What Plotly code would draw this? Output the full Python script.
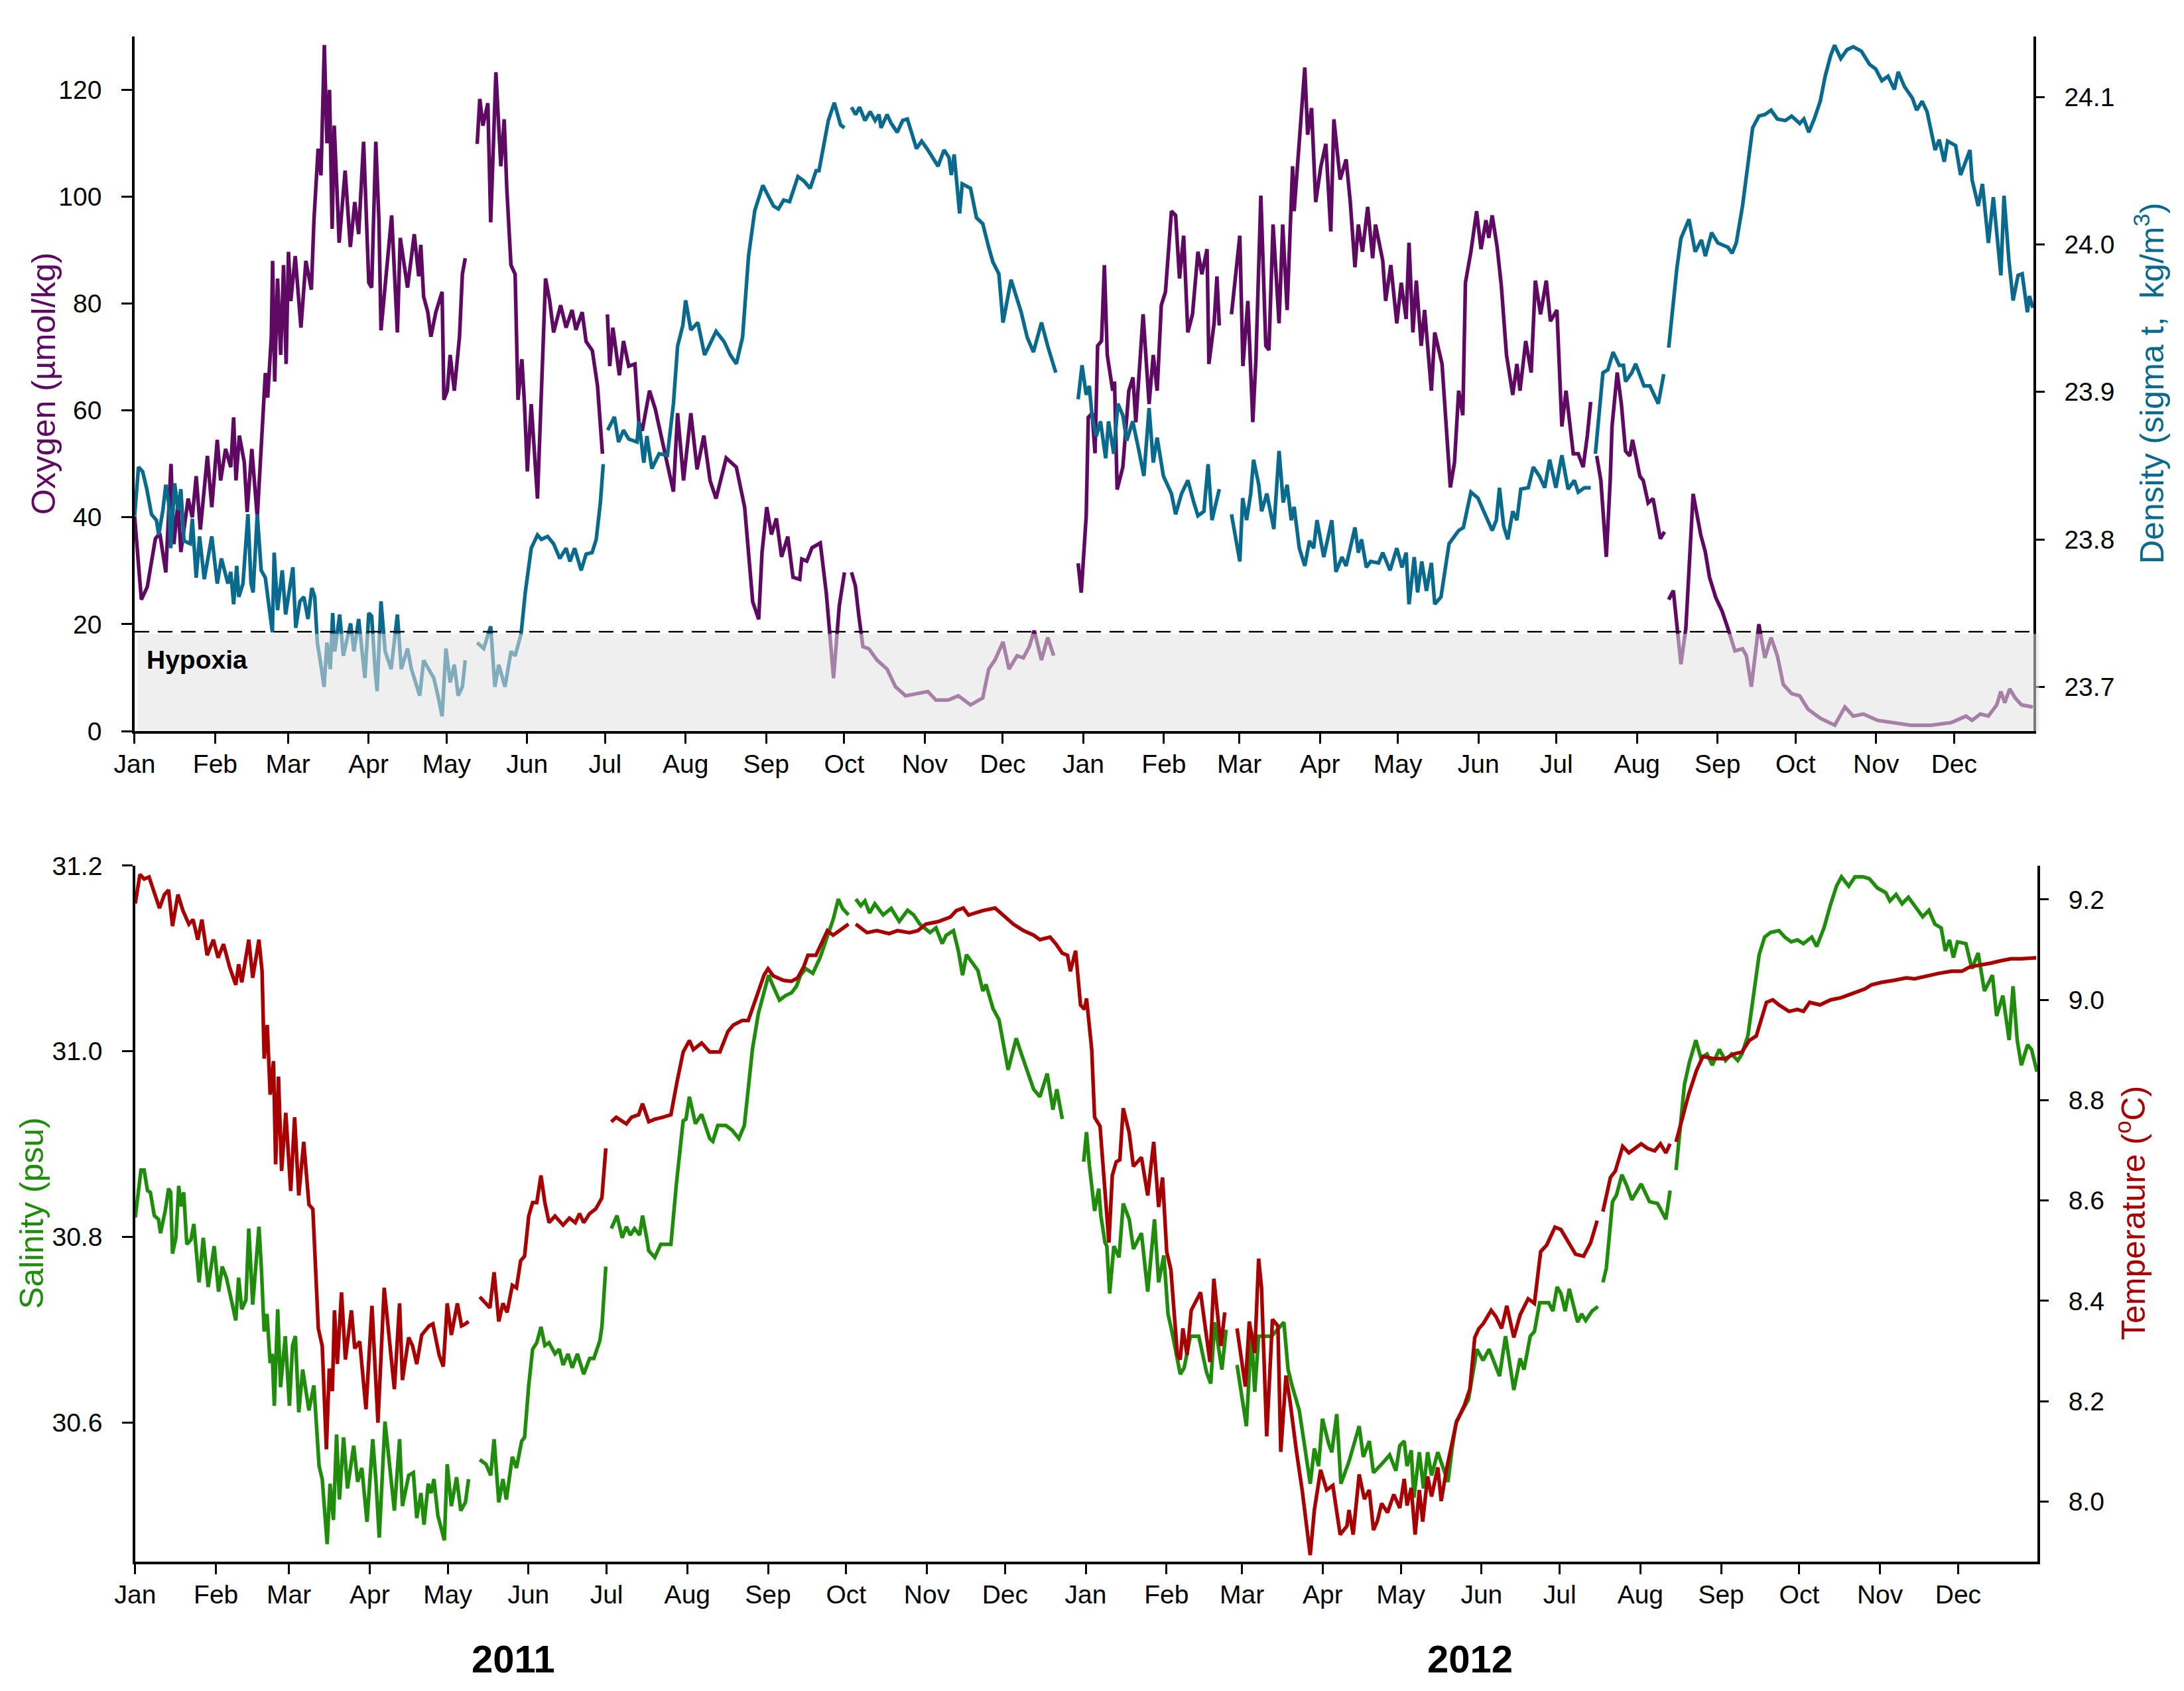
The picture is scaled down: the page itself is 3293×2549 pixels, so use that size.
import pandas as pd
import plotly.graph_objects as go

# (day since 2011-01-01, value); None marks a gap in the record
oxygen = [
    (0, 40.2), (2.6, 24.6), (4.9, 27), (8, 36), (9.7, 37), (12, 29.7), (14, 50), (15.1, 35),
    (16.7, 42.7), (17.8, 33.5), (20.6, 43.5), (22.2, 40), (23.7, 47.7), (25.3, 37.7), (28, 51.5),
    (29.7, 41.9), (31.8, 54.5), (33.1, 46.9), (35, 52.8), (37, 49.4), (38.1, 58.7), (39, 46.9),
    (40.3, 55.3), (42.2, 50.3), (43.3, 41), (45.1, 52.8), (47.2, 40), (49, 56), (50.3, 67),
    (51.2, 62.4), (52.6, 73.8), (53.1, 88), (53.9, 65.4), (55, 84.7), (56.2, 70.4), (57.3, 87.2),
    (58.3, 68.7), (59.2, 89.7), (60.1, 80.5), (61.8, 88.9), (64, 75.5), (65.9, 88), (68, 82.6),
    (69, 95.6), (70.6, 109), (71.7, 104), (73, 128.4), (74, 110), (75, 120), (76, 94), (76.8, 113.3),
    (78.7, 91.4), (81, 104.9), (83, 90.6), (84.7, 99), (86.2, 93), (88.1, 110.3), (90.1, 83.9),
    (91.2, 83), (92.8, 110.3), (94, 95.6), (94.8, 75), (97.2, 87.2), (98.9, 96.5), (101.1, 74.6),
    (102.2, 92.3), (105, 83), (107.6, 93), (109.3, 85.1), (110.1, 91), (111.2, 81.3), (112.8, 78.4),
    (114, 73.8), (115.9, 78.4), (118.3, 82.2), (119, 62), (120.3, 63.7), (121.4, 70.4), (123, 63.7),
    (125, 73.8), (126.1, 85.5), (127.2, 88.5), (129.5, None),
    (131.8, 109.9), (132.8, 118.3), (134, 113.3), (135.9, 117.5), (137, 95.2), (139, 123.3),
    (140.9, 105.7), (142.2, 114.5), (143.2, 101.5), (144.8, 87.2), (146.4, 85.5), (147.5, 62),
    (149, 69.6), (150, 61.2), (151.1, 48.6), (152.6, 61.2), (155, 43.5), (158.1, 84.7), (159.7, 80.5),
    (161.2, 74.6), (163.9, 79.7), (166, 75.5), (168.3, 78.8), (169.8, 75.1), (172.2, 78.4),
    (173.7, 72.9), (176.1, 71.2), (178.1, 64.6), (180, 51.9), (181, None),
    (181.9, 78), (182.8, 68.3), (184, 75.5), (186.5, 66.6), (188.1, 73), (190.1, 68.3), (192.5, 68.7),
    (194, 57.8), (195.3, 56.2), (198.1, 63.7), (200.3, 60.3), (203.4, 53.6), (207.3, 44.8),
    (208.9, 59.5), (211.2, 46.9), (214, 59.5), (216.4, 49), (219, 55.3), (221.4, 46.9), (223.7, 43.5),
    (227.6, 51.1), (231.5, 49.4), (234.7, 41.9), (237.8, 24.2), (240.1, 20.9), (241.4, 33.5),
    (243.2, 41.9), (245, 36.8), (246.9, 39.8), (248.9, 32.6), (251.3, 36.4), (253.3, 28.8),
    (255.9, 28.4), (256.7, 32.2), (258.6, 31.8), (260.6, 34.3), (263.8, 35.2), (266.1, 25.9),
    (268.9, 9.9), (271.1, 23.4), (273.1, 29.7), (274.5, None),
    (275.8, 29.7), (277.3, 27.2), (278.6, 21.7), (280.2, 15.8), (282.5, 15.4), (285.6, 13.3),
    (289.5, 11.6), (292.7, 8.3), (296.6, 6.6), (300.5, 7), (305.2, 7.4), (308.3, 5.8), (313, 5.8),
    (316.9, 6.6), (321.6, 4.9), (326.3, 6.2), (328.6, 11.6), (331, 13.3), (334.1, 16.7), (336.4, 11.6),
    (339.5, 14.1), (341.9, 13.7), (344.2, 15.8), (346.1, 18.8), (348.9, 13.3), (351.3, 17.5),
    (353.6, 14.1), (358, None),
    (363, 31.4), (364.2, 25.9), (366.1, 40.2), (366.9, 58.7), (368.4, 59.5), (369.5, 52), (370.5, 72.1),
    (372, 73), (373.1, 87.2), (374.2, 70.4), (376.3, 63.7), (377, 65.4), (378, 45.2), (380.2, 49.4),
    (382.5, 63.7), (384.1, 66.2), (385.2, 57.8), (388, 78), (390.3, 61.2), (391.9, 70.4), (393.4, 63.7),
    (395, 79.7), (396.6, 82.2), (398.9, 97.3), (400.5, 96.5), (402, 84.7), (403.6, 92.7), (405.2, 74.6),
    (407, 78), (409.1, 89.7), (410.6, 85.5), (412.6, 90.2), (413.3, 68.7), (415.3, 76.3), (416.4, 85.1),
    (417.3, 75.9), (419.5, None),
    (422, 78), (425.2, 92.7), (426.4, 68.3), (428.3, 80.5), (430.2, 57.8), (431.4, 69.6), (433.3, 100.2),
    (435.2, 72.1), (436.4, 71.3), (438, 94.8), (440.3, 76.3), (441.7, 94.8), (443.4, 78.8),
    (445.5, 105.7), (446.1, 97.3), (448.1, 111.6), (450.2, 124.2), (451.3, 111.6), (452.8, 116.6),
    (454.4, 99), (456.4, 105.7), (458.3, 109.9), (460.2, 93.5), (461.4, 114.5), (463.8, 103.2),
    (466.1, 107), (467.7, 99), (469.5, 86.8), (470.8, 94.8), (472.4, 89.7), (474.4, 98.1), (476.3, 88.5),
    (477.4, 94.8), (480.2, 88), (481.3, 80.5), (483.3, 87.2), (485.6, 76.3), (487.3, 83.9),
    (489.2, 77.1), (490.3, 91.4), (491.8, 74.6), (493.1, 84.3), (495, 72.1), (496.3, 78.8),
    (498.9, 63.7), (500.2, 74.6), (503, 68.7), (506.2, 45.6), (507.8, 50.3), (509.4, 63.7), (511, 59.1),
    (512, 83.9), (514.1, 89.7), (516.3, 97.3), (518, 90.2), (519.9, 95.6), (521, 92.3), (522.3, 96.5),
    (524.2, 90.6), (525.8, 83.4), (527.8, 70.4), (530.2, 62.9), (531.8, 68.7), (533, 63.7), (535.2, 73),
    (537.3, 67.1), (538.9, 84.3), (540.9, 78), (543.1, 84.3), (544.7, 76.7), (547.2, 78.8), (549.1, 57),
    (550.7, 63.7), (553.5, 51.9), (555.4, 51.9), (557.3, 49.4), (558.9, 55.3), (560.2, 61.6),
    (561.3, None),
    (562.5, 51.5), (564.1, 46.9), (566.2, 32.6), (567.7, 46.9), (568.4, 57), (570.4, 67.1), (572, 61.2),
    (573.6, 52.4), (575.2, 51.5), (576.3, 54.5), (579.1, 47.7), (580.4, 46.9), (582.3, 42.7),
    (584.2, 43.5), (587, 36), (588.6, 37.3), (589.4, None),
    (590.2, 24.6), (592, 26.3), (594.9, 12.5), (596.8, 19.2), (599.6, 44.4), (602.5, 36.8), (604.3, 33.5),
    (605.9, 28.8), (608.3, 25), (610.7, 22.5), (613, 19.2), (615.7, 15), (618.6, 15.4), (620.1, 14.1),
    (622, 8.3), (624.9, 20), (627.2, 13.7), (629.6, 17.5), (632, 14.1), (634.3, 8.7), (637.5, 7),
    (640.6, 6.6), (643.8, 4.1), (648.5, 2.4), (654.1, 1.1), (658, 4.5), (661.2, 2.8), (665.1, 3.2),
    (670.6, 2), (676.9, 1.6), (683.3, 1.1), (691.1, 1.1), (699, 1.6), (704.6, 2.8), (706.9, 2),
    (710.1, 3.2), (713.2, 2.8), (716.4, 4.9), (718, 7.4), (719.5, 5.3), (721.4, 7.9), (723.5, 6.2),
    (725.9, 4.9), (730.3, 4.5),
]

density = [
    (0, 23.816), (1.5, 23.849), (3.1, 23.846), (4.7, 23.834), (6.5, 23.817), (8.4, 23.813),
    (9.3, 23.803), (10.9, 23.820), (12, 23.837), (13.1, 23.825), (13.9, 23.794), (15.4, 23.838),
    (16.7, 23.820), (17.8, 23.834), (19, 23.799), (21.4, 23.797), (22.2, 23.814), (23.7, 23.774),
    (25, 23.802), (26.8, 23.773), (29.7, 23.802), (31.8, 23.770), (33.4, 23.787), (35.9, 23.770),
    (37, 23.778), (38.1, 23.756), (39.3, 23.782), (40.1, 23.761), (41.7, 23.770), (43, 23.800),
    (43.6, 23.817), (44.8, 23.770), (45.6, 23.764), (47.2, 23.817), (48.7, 23.779), (50.3, 23.774),
    (51.8, 23.752), (53, 23.737), (53.7, 23.791), (55, 23.752), (56.8, 23.779), (58.1, 23.749),
    (60.9, 23.781), (62, 23.740), (63.6, 23.758), (65.1, 23.761), (66.7, 23.746), (68.2, 23.767),
    (69.3, 23.761), (70.3, 23.730), (71.4, 23.718), (72.9, 23.700), (74, 23.730), (75.3, 23.712),
    (76.2, 23.750), (77, 23.724), (78.9, 23.749), (80.3, 23.721), (83.1, 23.743), (84.4, 23.724),
    (86.2, 23.746), (87.5, 23.727), (88.6, 23.706), (90.1, 23.750), (91.2, 23.748), (92.5, 23.712),
    (93.3, 23.697), (94.8, 23.758), (96.4, 23.724), (98.7, 23.712), (101.1, 23.749), (102.6, 23.712),
    (105, 23.726), (106.5, 23.712), (109.7, 23.694), (111.2, 23.718), (115.1, 23.706), (116.7, 23.694),
    (118.3, 23.680), (119.8, 23.726), (121.4, 23.703), (123, 23.715), (124.5, 23.694), (126.1, 23.700),
    (127.2, 23.718), (129.5, None),
    (131.8, 23.730), (134.3, 23.726), (137, 23.741), (138.6, 23.700), (140.1, 23.715), (142.5, 23.700),
    (144.8, 23.724), (146.4, 23.721), (148.7, 23.736), (150.3, 23.764), (152.6, 23.794), (155, 23.803),
    (156.5, 23.800), (158.9, 23.802), (161.2, 23.797), (163.6, 23.787), (166, 23.794), (167.5, 23.785),
    (169.3, 23.794), (171.8, 23.779), (173.7, 23.790), (176, 23.791), (177.6, 23.800), (179.2, 23.825),
    (180.3, 23.851), (181.2, None),
    (182, 23.874), (184.6, 23.883), (186.2, 23.866), (188.1, 23.874), (190.1, 23.868), (193.3, 23.866),
    (194, 23.880), (195.9, 23.852), (197.1, 23.870), (199, 23.848), (201.8, 23.858), (205, 23.857),
    (207.3, 23.892), (208.9, 23.931), (210.9, 23.945), (212, 23.962), (214, 23.942), (216.7, 23.947),
    (219.3, 23.925), (223.7, 23.941), (226.8, 23.934), (229.2, 23.925), (231.5, 23.919),
    (233.9, 23.937), (236.2, 23.992), (238.6, 24.023), (241.7, 24.040), (243.2, 24.035),
    (245.8, 24.026), (247.7, 24.024), (249.7, 24.030), (252, 24.029), (255.2, 24.046), (257.5, 24.043),
    (259.9, 24.038), (262.2, 24.050), (263.3, 24.050), (264.9, 24.065), (266.9, 24.084),
    (269.2, 24.096), (271.6, 24.081), (273.1, 24.079), (274.5, None),
    (275.8, 24.093), (277.4, 24.088), (278.9, 24.093), (281, 24.084), (283, 24.090), (284.9, 24.084),
    (286.4, 24.088), (287.2, 24.079), (289.5, 24.088), (291.1, 24.082), (293.4, 24.076),
    (295.5, 24.084), (297.3, 24.085), (298.9, 24.076), (300.8, 24.065), (302.8, 24.070),
    (305.2, 24.064), (309.1, 24.053), (311.4, 24.064), (313.3, 24.059), (314.2, 24.047),
    (315.3, 24.061), (317.4, 24.021), (318.4, 24.041), (321.6, 24.038), (323.9, 24.018),
    (326.3, 24.014), (328.6, 23.998), (330.2, 23.988), (332.5, 23.980), (334.1, 23.947),
    (337.2, 23.976), (341.1, 23.954), (343.4, 23.937), (345.8, 23.927), (348.9, 23.947),
    (351.3, 23.931), (354.4, 23.913), (358, None),
    (363, 23.895), (364.5, 23.918), (366.1, 23.898), (367.3, 23.904), (368.4, 23.883), (370, 23.870),
    (371.6, 23.880), (373.6, 23.855), (374.7, 23.880), (376.7, 23.858), (378.3, 23.892),
    (380.2, 23.884), (381.7, 23.867), (384, 23.880), (386.4, 23.860), (388.3, 23.843), (390.3, 23.889),
    (391.9, 23.852), (393.4, 23.869), (395.8, 23.843), (398.9, 23.831), (400.5, 23.817),
    (402.8, 23.831), (405.2, 23.840), (407.5, 23.825), (409.1, 23.816), (411.4, 23.819), (413, 23.851),
    (414.5, 23.813), (417.3, 23.834), (419.5, None),
    (422, 23.817), (425.2, 23.785), (426.3, 23.828), (427.8, 23.813), (429.4, 23.831), (430.5, 23.854),
    (432.5, 23.837), (433.6, 23.819), (435.6, 23.831), (438.3, 23.807), (440.3, 23.860),
    (441.9, 23.825), (443.4, 23.837), (445, 23.813), (446.1, 23.822), (448.1, 23.794), (450.2, 23.782),
    (452, 23.799), (453.6, 23.794), (454.9, 23.813), (457.5, 23.788), (460.6, 23.813), (462.2, 23.778),
    (464.5, 23.788), (466.1, 23.782), (469.5, 23.808), (470.8, 23.791), (472, 23.800), (473.9, 23.781),
    (475.5, 23.785), (478.6, 23.784), (480.2, 23.791), (483, 23.779), (485.6, 23.794), (487.6, 23.781),
    (489.2, 23.791), (490.3, 23.756), (492.3, 23.788), (493.6, 23.764), (495.2, 23.785), (497, 23.765),
    (498.9, 23.784), (500.2, 23.756), (502.6, 23.761), (505.7, 23.797), (509.4, 23.806),
    (511.2, 23.808), (514.1, 23.832), (516.8, 23.828), (519.1, 23.819), (520.4, 23.814),
    (522.3, 23.806), (523.9, 23.813), (525.1, 23.835), (526.7, 23.809), (528.3, 23.800),
    (530.2, 23.819), (531.8, 23.813), (533.3, 23.834), (536.2, 23.835), (538.1, 23.849),
    (540.4, 23.843), (542.5, 23.835), (544.4, 23.854), (546.8, 23.835), (549.1, 23.857),
    (551.5, 23.834), (553.9, 23.840), (555.4, 23.832), (557.8, 23.835), (560.2, 23.835), (561.2, None),
    (562, 23.858), (564.9, 23.913), (566.8, 23.915), (568.8, 23.927), (571.2, 23.918), (572.8, 23.918),
    (573.6, 23.907), (576, 23.913), (577.5, 23.919), (580.7, 23.904), (583, 23.904), (586.2, 23.892),
    (588.3, 23.912), (589.3, None),
    (590.2, 23.930), (593.3, 23.983), (594.9, 24.004), (598, 24.017), (600.4, 23.995), (602.8, 24.003),
    (604.3, 23.992), (606.7, 24.008), (609.1, 24.001), (613, 23.998), (614.6, 23.994), (616.2, 24.001),
    (618.6, 24.026), (620.9, 24.059), (622.5, 24.079), (624.9, 24.087), (627.2, 24.088),
    (629.6, 24.091), (632, 24.085), (635.1, 24.084), (637.5, 24.087), (640.6, 24.082), (642.2, 24.085),
    (644.1, 24.076), (646.2, 24.085), (648.5, 24.097), (650.4, 24.114), (652.5, 24.128), (654, 24.135),
    (656.4, 24.126), (658.8, 24.132), (661.2, 24.134), (664.3, 24.131), (667.5, 24.122),
    (669.8, 24.119), (672.2, 24.111), (674.6, 24.114), (677, 24.105), (678.5, 24.117), (680.9, 24.107),
    (684, 24.099), (685.6, 24.091), (687.7, 24.097), (689.6, 24.090), (692.7, 24.064), (694.3, 24.071),
    (696.2, 24.056), (697.5, 24.070), (700.6, 24.067), (702.5, 24.047), (706.1, 24.064),
    (706.9, 24.044), (709.3, 24.026), (710.9, 24.041), (713.2, 24.001), (715.1, 24.032), (718, 23.979),
    (719.2, 24.033), (721.1, 23.989), (722.7, 23.962), (724.6, 23.979), (726.2, 23.980),
    (728.2, 23.954), (729, 23.965), (730.3, 23.957),
]

salinity = [
    (0, 30.821), (2.2, 30.872), (3.4, 30.872), (4.7, 30.850), (5.8, 30.848), (7.3, 30.823),
    (8.9, 30.819), (9.7, 30.804), (11.5, 30.828), (12.8, 30.852), (13.6, 30.848), (14.3, 30.782),
    (15.6, 30.799), (16.7, 30.855), (17.5, 30.833), (18.6, 30.848), (19.8, 30.792), (21.4, 30.797),
    (22.5, 30.814), (24.5, 30.751), (26.1, 30.799), (28, 30.746), (30.3, 30.790), (32, 30.741),
    (33.4, 30.768), (35, 30.756), (36.2, 30.741), (38.6, 30.710), (39.7, 30.756), (40.9, 30.722),
    (42.5, 30.732), (43.6, 30.809), (45.1, 30.727), (47.5, 30.811), (48.4, 30.768), (49.5, 30.698),
    (50.6, 30.717), (51.8, 30.664), (52.6, 30.674), (53.4, 30.618), (54.7, 30.722), (55.8, 30.638),
    (57.6, 30.693), (59.2, 30.618), (60.4, 30.683), (61.5, 30.693), (62.8, 30.611), (64.3, 30.657),
    (66.7, 30.613), (68.6, 30.640), (70.6, 30.553), (71.8, 30.539), (73.7, 30.469), (74.8, 30.534),
    (76.1, 30.495), (77.3, 30.587), (78.4, 30.517), (80, 30.584), (81.5, 30.529), (83.9, 30.575),
    (85.4, 30.536), (87, 30.551), (89, 30.493), (91.2, 30.582), (92.5, 30.534), (93.7, 30.476),
    (95.9, 30.601), (97.5, 30.555), (99.5, 30.505), (101.5, 30.582), (102.6, 30.510), (105, 30.543),
    (106.8, 30.546), (108.1, 30.497), (109.7, 30.524), (110.9, 30.490), (112.5, 30.534),
    (113.6, 30.524), (114.7, 30.539), (116.2, 30.500), (118.7, 30.473), (119.8, 30.555),
    (121.4, 30.510), (123.4, 30.541), (125, 30.505), (126.8, 30.514), (128, 30.539), (130, None),
    (132.3, 30.560), (134.7, 30.555), (136.5, 30.543), (137.8, 30.582), (139.6, 30.514),
    (141.2, 30.539), (142.5, 30.517), (144.8, 30.563), (146.4, 30.551), (148.4, 30.580),
    (149.5, 30.584), (151.1, 30.640), (152.6, 30.679), (154.2, 30.686), (155.8, 30.703),
    (157.3, 30.683), (158.9, 30.686), (161.2, 30.674), (162.8, 30.679), (164.3, 30.662),
    (166.2, 30.674), (167.8, 30.659), (169.8, 30.674), (172.2, 30.652), (174.5, 30.669),
    (176.1, 30.669), (178.4, 30.688), (179.2, 30.703), (180.7, 30.768), (181.7, None),
    (182.8, 30.809), (185, 30.823), (187, 30.799), (188.6, 30.811), (190.1, 30.802), (191.7, 30.809),
    (193.7, 30.802), (194.8, 30.823), (196.4, 30.799), (197.2, 30.785), (199.5, 30.778),
    (201.8, 30.792), (205.7, 30.792), (207.8, 30.857), (210.4, 30.925), (211.5, 30.927),
    (212.8, 30.951), (215.1, 30.922), (217.5, 30.932), (220.6, 30.906), (221.8, 30.903),
    (223.7, 30.920), (226.8, 30.920), (229.2, 30.915), (231.8, 30.906), (233.9, 30.920), (235, 30.949),
    (237, 31.002), (239.3, 31.041), (241.7, 31.067), (243.2, 31.082), (245, 31.070), (247.4, 31.055),
    (249.7, 31.060), (252, 31.063), (253.9, 31.070), (255.5, 31.082), (257.5, 31.089), (260.2, 31.084),
    (263, 31.101), (266.1, 31.128), (268, 31.142), (270, 31.164), (271.6, 31.154), (273.9, 31.147),
    (275.2, None),
    (276.7, 31.164), (278.6, 31.157), (280.2, 31.162), (282, 31.149), (284, 31.159), (287.2, 31.147),
    (290.3, 31.154), (293.4, 31.140), (296.6, 31.152), (298.9, 31.147), (301.3, 31.137),
    (305.2, 31.128), (307.5, 31.133), (309.9, 31.116), (311.4, 31.125), (314.2, 31.130),
    (316.1, 31.108), (317.7, 31.082), (319.2, 31.104), (321.6, 31.094), (323.6, 31.087),
    (325.5, 31.065), (326.7, 31.072), (329.4, 31.046), (331.7, 31.034), (335.2, 30.980),
    (338.3, 31.014), (340.3, 30.997), (342.7, 30.978), (345, 30.959), (347.4, 30.951), (350.2, 30.976),
    (352.4, 30.937), (353.9, 30.959), (356, 30.927), (360, None),
    (364.2, 30.881), (365.3, 30.913), (366.4, 30.877), (368.4, 30.828), (370, 30.852), (370.8, 30.823),
    (372.4, 30.794), (373.1, 30.790), (374.2, 30.739), (375.8, 30.790), (377.8, 30.778),
    (379.4, 30.836), (381.7, 30.819), (383.3, 30.787), (386.4, 30.804), (388.8, 30.741),
    (391.4, 30.819), (393, 30.751), (395, 30.780), (396.6, 30.717), (398.1, 30.698), (401.3, 30.652),
    (402.8, 30.659), (405.2, 30.693), (408.4, 30.693), (411.4, 30.654), (413, 30.642), (414.5, 30.708),
    (417.3, 30.657), (418.9, 30.700), (421, None),
    (423.1, 30.662), (426.7, 30.596), (428.6, 30.698), (429.9, 30.633), (431.4, 30.693),
    (436.4, 30.693), (441.1, 30.708), (442.7, 30.657), (444.2, 30.640), (447, 30.613), (449.2, 30.572),
    (451.2, 30.534), (452.8, 30.572), (454.4, 30.553), (455.9, 30.604), (458.3, 30.577),
    (459.5, 30.568), (461.4, 30.609), (463, 30.534), (466.1, 30.558), (470, 30.596), (471.6, 30.563),
    (473.9, 30.580), (475.5, 30.546), (478.6, 30.555), (481.7, 30.565), (484.1, 30.548),
    (485.6, 30.575), (487.3, 30.580), (488.4, 30.553), (490, 30.570), (491, 30.519), (493.1, 30.568),
    (494.7, 30.529), (496.3, 30.568), (497.8, 30.543), (500.2, 30.568), (504.1, 30.536),
    (505.7, 30.572), (507.3, 30.601), (512, 30.625), (515.2, 30.679), (517.6, 30.667), (519.9, 30.679),
    (523.9, 30.650), (526.2, 30.693), (529.4, 30.635), (531.8, 30.669), (533.3, 30.657),
    (535.7, 30.693), (537.3, 30.698), (539.3, 30.729), (542.8, 30.729), (544.4, 30.720), (546, 30.746),
    (547.5, 30.739), (549.1, 30.720), (550.7, 30.744), (553.9, 30.708), (555.4, 30.717), (557, 30.710),
    (559.4, 30.720), (561.7, 30.725), (562.7, None),
    (563.6, 30.751), (564.9, 30.766), (567.3, 30.838), (568.8, 30.845), (570.9, 30.867),
    (572.8, 30.855), (574.7, 30.840), (578.3, 30.857), (581.5, 30.838), (584.6, 30.836),
    (587.8, 30.819), (589.4, 30.850), (590.5, None),
    (591.7, 30.872), (593.3, 30.920), (594.9, 30.964), (596.8, 30.988), (599.3, 31.012),
    (601.2, 30.993), (603.6, 30.997), (605.6, 30.985), (608.3, 31.002), (610.7, 30.990), (613, 30.997),
    (615.4, 30.990), (617, 30.997), (619.3, 31.017), (621.4, 31.060), (623.6, 31.104), (625.7, 31.123),
    (628, 31.128), (631.2, 31.130), (633.5, 31.123), (635.9, 31.118), (638.3, 31.120), (640.6, 31.116),
    (643.8, 31.123), (645.7, 31.113), (648.5, 31.133), (650.9, 31.157), (653.3, 31.178),
    (655.2, 31.188), (658, 31.178), (660.4, 31.188), (663.5, 31.188), (665.9, 31.186), (669, 31.176),
    (672.2, 31.171), (673.8, 31.162), (676.2, 31.169), (678.5, 31.159), (680.9, 31.166), (684, 31.154),
    (686.4, 31.145), (688.8, 31.152), (691.1, 31.137), (693.5, 31.133), (695.1, 31.108),
    (696.7, 31.120), (698.2, 31.101), (699.8, 31.118), (703, 31.116), (705.3, 31.089), (707.7, 31.106),
    (710.1, 31.065), (713.2, 31.082), (714.8, 31.038), (717.2, 31.060), (719.6, 31.012),
    (721.1, 31.070), (722.7, 31.012), (724.3, 30.985), (726.7, 31.007), (728.2, 31.002),
    (730.3, 30.978),
]

temperature = [
    (0, 9.192), (1.8, 9.250), (3.4, 9.241), (5.3, 9.245), (7.3, 9.214), (9.3, 9.183), (11.2, 9.210),
    (12.8, 9.219), (14.3, 9.147), (16.4, 9.210), (18.3, 9.178), (20.6, 9.151), (22.2, 9.160),
    (24, 9.120), (25.6, 9.160), (27.6, 9.089), (30, 9.120), (31.8, 9.084), (33.9, 9.111), (36.2, 9.066),
    (38.6, 9.030), (39.7, 9.071), (40.9, 9.035), (43.6, 9.120), (45.1, 9.044), (47.5, 9.120),
    (48.7, 9.057), (49.5, 8.883), (50.7, 8.950), (51.8, 8.811), (53.1, 8.878), (53.9, 8.672),
    (55, 8.847), (56.2, 8.659), (57.8, 8.775), (59.7, 8.619), (61.2, 8.766), (62.8, 8.610),
    (64.7, 8.717), (66.7, 8.592), (68.2, 8.583), (70.3, 8.345), (71.8, 8.310), (73.4, 8.104),
    (74.5, 8.265), (75.7, 8.220), (76.5, 8.381), (77.6, 8.274), (79.2, 8.417), (80.7, 8.283),
    (83, 8.381), (84.3, 8.305), (86.2, 8.319), (88.6, 8.184), (90.9, 8.390), (93.2, 8.157),
    (95.6, 8.426), (97.5, 8.327), (99.5, 8.224), (101.5, 8.395), (102.6, 8.242), (105, 8.327),
    (106.5, 8.310), (108.1, 8.274), (110, 8.332), (112.8, 8.350), (114.3, 8.354), (116.7, 8.292),
    (118.3, 8.269), (119.8, 8.395), (121.4, 8.332), (123.7, 8.395), (125.3, 8.350), (126.8, 8.354),
    (128, 8.359), (130, None),
    (132.3, 8.408), (134.7, 8.395), (136.2, 8.386), (137.8, 8.457), (139.6, 8.359), (141.2, 8.395),
    (142.8, 8.377), (144.8, 8.431), (146.4, 8.426), (148, 8.480), (149.5, 8.489), (151.1, 8.569),
    (152.6, 8.596), (154.2, 8.596), (155.8, 8.650), (157.3, 8.596), (158.9, 8.556), (161.2, 8.569),
    (164.3, 8.551), (166.7, 8.565), (169, 8.556), (170.6, 8.574), (172.2, 8.556), (174.5, 8.574),
    (176.8, 8.583), (179.2, 8.605), (180.7, 8.704), (181.7, None),
    (182.8, 8.757), (184.7, 8.766), (188.6, 8.753), (190.6, 8.766), (193.3, 8.771), (194.8, 8.793),
    (197.2, 8.757), (199.5, 8.762), (202.6, 8.766), (205.7, 8.771), (208.1, 8.838), (210.4, 8.896),
    (212.8, 8.919), (214.3, 8.901), (217.5, 8.914), (220.6, 8.896), (224.5, 8.896), (227.6, 8.937),
    (229.7, 8.950), (233.1, 8.959), (235.4, 8.959), (237, 8.981), (239.3, 9.017), (241.5, 9.050),
    (243, 9.062), (245, 9.048), (248.9, 9.039), (252, 9.037), (254.4, 9.044), (256.7, 9.066),
    (258.3, 9.089), (261.4, 9.089), (263.8, 9.116), (265.8, 9.138), (268, 9.129), (271.6, 9.142),
    (273.9, 9.151), (275.2, None),
    (276.7, 9.151), (281, 9.134), (284.8, 9.138), (289.5, 9.132), (292.7, 9.138), (297.3, 9.134),
    (300.5, 9.138), (303.6, 9.151), (308.3, 9.156), (313, 9.165), (315.3, 9.178), (318, 9.183),
    (320, 9.169), (325.5, 9.178), (330.2, 9.183), (333.3, 9.169), (337.2, 9.151), (341.1, 9.138),
    (345, 9.129), (347.4, 9.120), (351.3, 9.125), (353.6, 9.111), (356, 9.093), (358, 9.089),
    (359.1, 9.057), (361.1, 9.098), (363, 8.990), (364.5, 8.981), (365.3, 9.003), (367.3, 8.901),
    (368.4, 8.766), (370.5, 8.748), (372, 8.650), (373.9, 8.516), (375.2, 8.650), (376.7, 8.677),
    (378.1, 8.681), (379.4, 8.784), (381.7, 8.735), (383.3, 8.668), (386.4, 8.686), (388.8, 8.610),
    (391.1, 8.717), (393, 8.587), (394.5, 8.646), (396.1, 8.498), (397.7, 8.462), (400.2, 8.292),
    (401.3, 8.283), (402.3, 8.345), (403.9, 8.292), (405.5, 8.381), (409.1, 8.417), (412.7, 8.278),
    (414.2, 8.444), (416.9, 8.310), (418.4, 8.377), (421, None),
    (423.1, 8.345), (426.3, 8.229), (427.8, 8.359), (429.9, 8.296), (431.4, 8.484), (432.5, 8.426),
    (434.5, 8.130), (436.7, 8.363), (438.8, 8.350), (439.9, 8.099), (441.9, 8.251), (443.4, 8.202),
    (445.8, 8.104), (448.1, 8.023), (451.2, 7.893), (452.8, 7.983), (455.2, 8.063), (457.5, 8.023),
    (459.9, 8.032), (462.7, 7.934), (465.3, 7.951), (466.1, 7.983), (467.7, 7.934), (470, 8.054),
    (472, 8.005), (473.9, 8.023), (475.5, 7.943), (477, 7.961), (478.6, 7.996), (480.9, 7.978),
    (483.3, 8.014), (485.6, 7.987), (487.3, 8.045), (488.4, 7.992), (490, 8.027), (491.5, 7.934),
    (493.1, 8.023), (494.4, 7.960), (496.3, 8.050), (497.8, 8.010), (500.2, 8.068), (501.5, 8.001),
    (503.7, 8.068), (505.7, 8.113), (507.3, 8.157), (510.5, 8.193), (512.5, 8.224), (514.4, 8.327),
    (516, 8.345), (517.6, 8.354), (520.7, 8.381), (522.6, 8.368), (524.7, 8.345), (526.7, 8.390),
    (529.4, 8.327), (531.8, 8.372), (534.9, 8.404), (537.3, 8.395), (539.7, 8.498), (542, 8.511),
    (545.2, 8.547), (547.5, 8.542), (551, 8.511), (553.1, 8.493), (556.2, 8.489), (558.9, 8.516),
    (561.4, 8.560), (562.5, None),
    (563.6, 8.578), (566.5, 8.646), (568.4, 8.659), (571.2, 8.708), (573.6, 8.695), (576, 8.704),
    (578.3, 8.713), (580.7, 8.704), (583.5, 8.699), (585.7, 8.713), (587.8, 8.695), (589.4, 8.713),
    (590.5, None),
    (591.7, 8.717), (594.1, 8.766), (596.5, 8.811), (599.6, 8.860), (602, 8.887), (606, 8.883),
    (610.7, 8.883), (613.8, 8.892), (617, 8.896), (619.8, 8.919), (622.5, 8.928), (626.4, 8.995),
    (628.8, 9.000), (631.2, 8.990), (635.1, 8.977), (638.3, 8.981), (640.6, 8.977), (643, 8.995),
    (647, 8.990), (651, 9.000), (654.9, 9.004), (659.6, 9.013), (664.3, 9.022), (666.7, 9.030),
    (670.6, 9.035), (675.4, 9.039), (680.1, 9.044), (683.3, 9.042), (688, 9.048), (692.7, 9.053),
    (697.5, 9.057), (701.4, 9.057), (704.6, 9.066), (708.5, 9.069), (712.4, 9.073), (716.4, 9.078),
    (720.3, 9.082), (724.3, 9.082), (730, 9.084),
]

hypoxia_level = 18.6
oxygen_ticks = [0, 20, 40, 60, 80, 100, 120]
density_ticks = [23.7, 23.8, 23.9, 24.0, 24.1]
salinity_ticks = [30.6, 30.8, 31.0, 31.2]
temperature_ticks = [8.0, 8.2, 8.4, 8.6, 8.8, 9.0, 9.2]
year_labels = ["2011", "2012"]

START = pd.Timestamp("2011-01-01")
PURPLE = "#5f0a62"
TEAL = "#0a6a8e"
GREEN = "#1f8c0c"
RED = "#a80000"
FONT = "Arial, Liberation Sans, sans-serif"


def split(series):
    days = [d for d, _ in series]
    vals = [v for _, v in series]
    return START + pd.to_timedelta(days, unit="D"), vals


fig = go.Figure()
for series, color, xa, ya in [
    (oxygen, PURPLE, "x", "y"),
    (density, TEAL, "x", "y2"),
    (salinity, GREEN, "x2", "y3"),
    (temperature, RED, "x2", "y4"),
]:
    x, y = split(series)
    fig.add_trace(go.Scatter(x=x, y=y, mode="lines", xaxis=xa, yaxis=ya,
                             line=dict(color=color, width=5.5), showlegend=False))

x_range = [START, START + pd.Timedelta(days=730.5)]
axis_common = dict(showline=True, linecolor="black", linewidth=3.5, ticks="outside",
                   tickwidth=3, tickcolor="black", showgrid=False, zeroline=False,
                   automargin=False,
                   tickfont=dict(family=FONT, size=39, color="black"))
x_common = dict(axis_common, type="date", range=x_range, dtick="M1", tick0="2011-01-01",
                tickformat="%b", ticklen=15, ticklabelstandoff=-3)

fig.update_layout(
    width=3293, height=2549,
    margin=dict(l=0, r=0, t=0, b=0),
    paper_bgcolor="white", plot_bgcolor="white",
    xaxis=dict(x_common, domain=[0.0592, 0.9286], anchor="y"),
    yaxis=dict(axis_common, domain=[0.5708, 0.9816], anchor="x", range=[0, 130],
               tickvals=oxygen_ticks, ticklen=16, ticklabelstandoff=22),
    yaxis2=dict(axis_common, overlaying="y", side="right", anchor="x",
                range=[23.67, 24.141], tickvals=density_ticks, tickformat=".1f",
                ticklen=13, ticklabelstandoff=22),
    xaxis2=dict(x_common, domain=[0.0595, 0.9305], anchor="y3"),
    yaxis3=dict(axis_common, domain=[0.0796, 0.4912], anchor="x2", range=[30.45, 31.2],
                tickvals=salinity_ticks, tickformat=".1f", ticklen=16, ticklabelstandoff=22),
    yaxis4=dict(axis_common, overlaying="y3", side="right", anchor="x2",
                range=[7.88, 9.2675], tickvals=temperature_ticks, tickformat=".1f",
                ticklen=13, ticklabelstandoff=22),
)

# hypoxia band: a translucent veil drawn over the lines, plus the threshold line
fig.add_shape(type="rect", xref="x domain", yref="y", x0=0.0015, x1=1.003, y0=-0.4,
              y1=hypoxia_level - 0.4, layer="above", line=dict(width=0),
              fillcolor="rgba(225,225,225,0.55)")
fig.add_shape(type="line", xref="x domain", yref="y", x0=0, x1=1, y0=hypoxia_level,
              y1=hypoxia_level, layer="above", line=dict(color="black", width=2.5, dash="22px,13px"))
fig.add_annotation(text="<b>Hypoxia</b>", xref="x domain", yref="y", x=0.0056, y=13.4,
                   xanchor="left", yanchor="middle", showarrow=False,
                   font=dict(family=FONT, size=39, color="black"))

titles = [
    ("Oxygen (µmol/kg)", PURPLE, 0.0176, 0.7764),
    ("Density (sigma t,  kg/m<sup>3</sup>)", TEAL, 0.9818, 0.7764),
    ("Salinity (psu)", GREEN, 0.0122, 0.2856),
    ("Temperature (<sup>o</sup>C)", RED, 0.9733, 0.2856),
]
for text, color, x, y in titles:
    fig.add_annotation(text=text, xref="paper", yref="paper", x=x, y=y, textangle=-90,
                       xanchor="center", yanchor="middle", showarrow=False,
                       font=dict(family=FONT, size=50, color=color))

for label, x in zip(year_labels, [0.2326, 0.6708]):
    fig.add_annotation(text=f"<b>{label}</b>", xref="paper", yref="paper", x=x, y=0.022,
                       xanchor="center", yanchor="middle", showarrow=False,
                       font=dict(family=FONT, size=58, color="black"))

fig.write_html("out.html")
